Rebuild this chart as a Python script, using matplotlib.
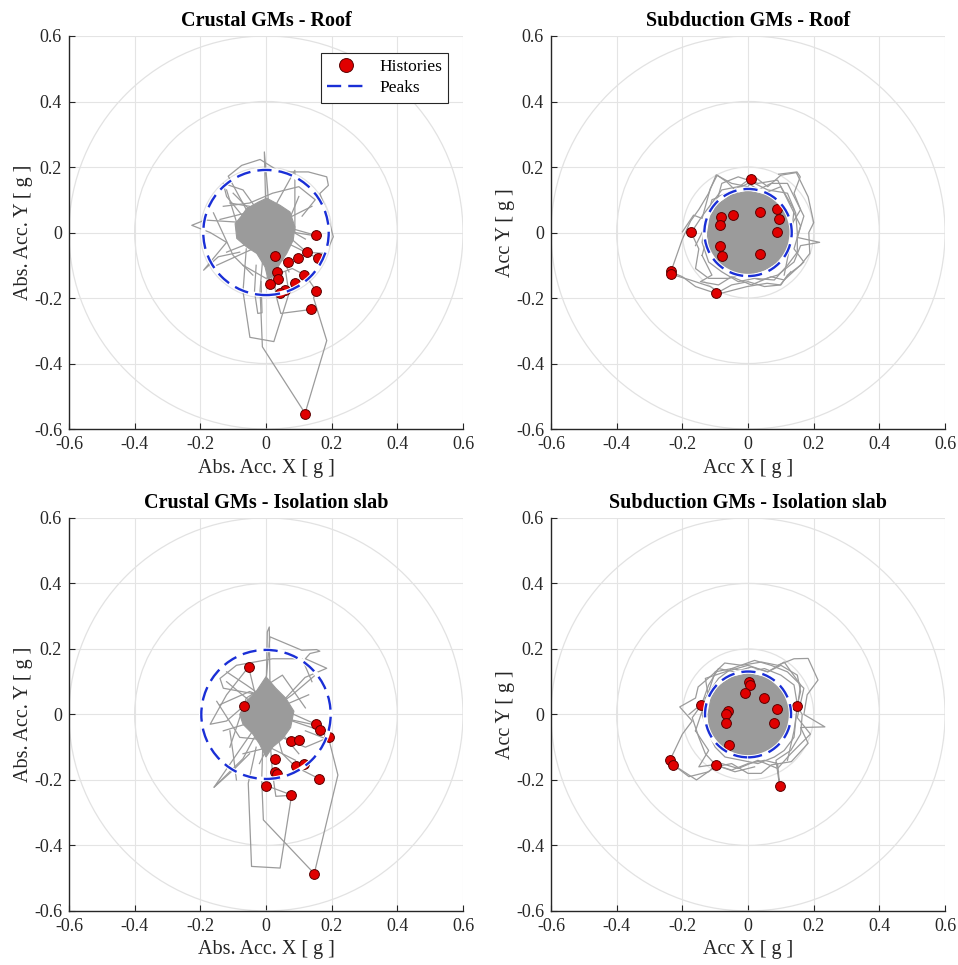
import matplotlib

matplotlib.use("Agg")
import matplotlib.pyplot as plt
from matplotlib.lines import Line2D
from matplotlib.patches import Circle, Polygon

plt.rcParams["font.family"] = ["Liberation Serif", "DejaVu Serif"]

TICKS = [-0.6, -0.4, -0.2, 0, 0.2, 0.4, 0.6]
TICK_LABELS = ["-0.6", "-0.4", "-0.2", "0", "0.2", "0.4", "0.6"]
RING_RADII = [0.2, 0.4, 0.6]

TITLES = [
    "Crustal GMs - Roof",
    "Subduction GMs - Roof",
    "Crustal GMs - Isolation slab",
    "Subduction GMs - Isolation slab",
]
XLABELS = ["Abs. Acc. X [ g ]", "Acc X [ g ]", "Abs. Acc. X [ g ]", "Acc X [ g ]"]
YLABELS = ["Abs. Acc. Y [ g ]", "Acc Y [ g ]", "Abs. Acc. Y [ g ]", "Acc Y [ g ]"]

# radius of the mean peak circle (blue dashed)
PEAK_RADIUS = [0.191, 0.133, 0.197, 0.131]

# peak points (red dots)
cr_roof_px = [0.153, 0.028, 0.066, 0.097, 0.124, 0.159, 0.034, 0.036, 0.012,
              0.117, 0.089, 0.057, 0.043, 0.153, 0.137, 0.119]
cr_roof_py = [-0.009, -0.071, -0.091, -0.077, -0.060, -0.079, -0.121, -0.141,
              -0.158, -0.129, -0.155, -0.174, -0.186, -0.178, -0.235, -0.554]

sub_roof_px = [0.009, 0.035, 0.087, 0.095, 0.087, 0.035, -0.045, -0.082,
               -0.084, -0.173, -0.086, -0.078, -0.235, -0.235, -0.097]
sub_roof_py = [0.162, 0.064, 0.072, 0.042, 0.001, -0.067, 0.055, 0.046,
               0.024, 0.001, -0.042, -0.071, -0.119, -0.127, -0.186]

cr_slab_px = [-0.053, -0.066, 0.152, 0.163, 0.191, 0.076, 0.100, 0.027,
              0.091, 0.115, 0.026, 0.034, 0.161, 0.000, 0.075, 0.147]
cr_slab_py = [0.145, 0.027, -0.030, -0.048, -0.070, -0.081, -0.079, -0.135,
              -0.157, -0.150, -0.175, -0.182, -0.196, -0.217, -0.247, -0.486]

sub_slab_px = [0.003, 0.007, -0.008, 0.049, 0.089, 0.149, 0.078, -0.142,
               -0.060, -0.067, -0.068, -0.059, -0.238, -0.229, -0.098, 0.096]
sub_slab_py = [0.098, 0.089, 0.064, 0.049, 0.017, 0.026, -0.025, 0.029,
               0.009, 0.000, -0.025, -0.093, -0.140, -0.153, -0.155, -0.217]

# dense core of the acceleration histories, outline
cr_roof_core_x = [-0.094, -0.075, -0.059, -0.023, 0.002, 0.043, 0.073, 0.088,
                  0.083, 0.063, 0.043, 0.027, 0.007, -0.003, -0.028, -0.059,
                  -0.089]
cr_roof_core_y = [0.027, 0.05, 0.073, 0.093, 0.105, 0.083, 0.063, 0.017,
                  -0.023, -0.064, -0.094, -0.125, -0.145, -0.105, -0.064,
                  -0.044, -0.018]

sub_roof_core_x = [0.0, 0.06, 0.10, 0.122, 0.127, 0.12, 0.09, 0.05, 0.0,
                   -0.06, -0.10, -0.118, -0.123, -0.115, -0.09, -0.05]
sub_roof_core_y = [0.127, 0.113, 0.083, 0.04, 0.0, -0.05, -0.09, -0.115,
                   -0.13, -0.117, -0.088, -0.05, 0.0, 0.05, 0.088, 0.115]

cr_slab_core_x = [-0.08, -0.06, -0.03, -0.01, 0.0, 0.03, 0.06, 0.085, 0.075,
                  0.05, 0.02, 0.0, -0.02, -0.04, -0.07]
cr_slab_core_y = [0.0, 0.04, 0.07, 0.1, 0.115, 0.08, 0.05, 0.01, -0.04,
                  -0.075, -0.10, -0.13, -0.09, -0.06, -0.03]

sub_slab_core_x = [0.0, 0.06, 0.10, 0.12, 0.125, 0.118, 0.09, 0.05, 0.0,
                   -0.06, -0.10, -0.118, -0.122, -0.113, -0.09, -0.05]
sub_slab_core_y = [0.125, 0.112, 0.082, 0.04, 0.0, -0.05, -0.09, -0.115,
                   -0.128, -0.115, -0.087, -0.05, 0.0, 0.05, 0.087, 0.113]

# excursions of the histories around and outside the core (x list, y list)
cr_roof_lines = [
    ([0.0, -0.005, 0.005, 0.01], [0.05, 0.246, 0.13, 0.05]),
    ([-0.06, -0.115, -0.074, -0.018, 0.043, 0.129, 0.185, 0.19, 0.164, 0.185,
      0.205, 0.182, 0.12],
     [0.07, 0.172, 0.205, 0.223, 0.185, 0.185, 0.170, 0.144, 0.119, 0.063,
      -0.013, -0.064, -0.06]),
    ([-0.06, -0.186, -0.226, -0.17, -0.12, -0.19, -0.145, -0.08],
     [0.03, 0.038, 0.022, 0.0, -0.03, -0.115, -0.074, -0.06]),
    ([-0.01, -0.018, -0.011, 0.119, 0.185, 0.145, 0.153, 0.12],
     [-0.08, -0.176, -0.349, -0.552, -0.33, -0.2, -0.178, -0.13]),
    ([-0.06, -0.07, -0.049, 0.024, 0.07, 0.06],
     [-0.05, -0.18, -0.32, -0.333, -0.186, -0.12]),
    ([0.137, 0.045, 0.03, 0.02], [-0.235, -0.247, -0.19, -0.1]),
    ([-0.03, -0.035, -0.025, -0.012, -0.015],
     [-0.1, -0.18, -0.247, -0.245, -0.15]),
    ([0.0, 0.088, 0.088, 0.15], [0.03, 0.19, 0.0, -0.01]),
    ([-0.13, -0.05, 0.02, 0.1, 0.15, 0.11],
     [0.08, 0.09, 0.12, 0.14, 0.10, 0.05]),
    ([-0.03, -0.12, -0.13, -0.07, -0.02],
     [0.0, 0.11, 0.15, 0.13, 0.06]),
    ([-0.14, -0.06, 0.05, 0.12], [0.04, 0.06, 0.02, -0.02]),
    ([-0.12, -0.02, 0.08, 0.14], [-0.06, -0.02, 0.05, 0.08]),
    ([-0.15, -0.04, 0.02], [-0.1, -0.05, -0.03]),
    ([-0.1, 0.0, 0.07], [0.12, 0.02, -0.12]),
    ([0.153, 0.05, -0.05, -0.11], [-0.009, 0.02, 0.08, 0.09]),
    ([-0.07, 0.0, 0.08, 0.117], [-0.1, -0.14, -0.11, -0.129]),
    ([0.124, 0.02, -0.06], [-0.06, 0.03, 0.0]),
    ([0.159, 0.06, 0.01], [-0.079, -0.03, -0.16]),
    ([-0.12, -0.08, 0.03, 0.1], [0.13, 0.0, -0.06, 0.11]),
    ([-0.16, -0.1, -0.04], [0.06, -0.07, -0.13]),
]

sub_roof_lines = [
    ([-0.235, -0.2, -0.16, -0.097, -0.05, 0.0, 0.05, 0.10, 0.12, 0.16, 0.188,
      0.185, 0.2, 0.183, 0.147, 0.10, 0.06, 0.02, 0.0, -0.05, -0.097, -0.12,
      -0.15, -0.175, -0.20, -0.235],
     [-0.12, -0.135, -0.165, -0.186, -0.16, -0.15, -0.165, -0.16, -0.13,
      -0.10, -0.064, 0.0, 0.03, 0.109, 0.183, 0.175, 0.14, 0.17, 0.14, 0.15,
      0.176, 0.12, 0.07, 0.035, -0.02, -0.12]),
    ([-0.173, -0.15, -0.16, -0.12, -0.06, -0.02, 0.04, 0.09, 0.14, 0.16,
      0.218, 0.15, 0.17, 0.14, 0.12, 0.07, 0.03, -0.03, -0.08, -0.11, -0.14,
      -0.173],
     [0.0, -0.05, -0.11, -0.14, -0.14, -0.13, -0.145, -0.13, -0.09, -0.04,
      -0.03, -0.015, 0.05, 0.11, 0.15, 0.15, 0.13, 0.14, 0.13, 0.09, 0.05,
      0.0]),
    ([-0.13, -0.14, -0.12, -0.08, -0.03, 0.02, 0.08, 0.12, 0.15, 0.15, 0.145,
      0.12, 0.06, 0.0, -0.04, -0.09, -0.13],
     [0.04, -0.03, -0.09, -0.12, -0.15, -0.14, -0.145, -0.1, -0.06, 0.0,
      0.06, 0.12, 0.13, 0.16, 0.13, 0.11, 0.04]),
    ([-0.2, -0.166, -0.14, -0.115, -0.094, -0.064, -0.03],
     [0.002, 0.053, 0.043, 0.134, 0.175, 0.154, 0.12]),
    ([0.093, 0.149, 0.159, 0.14, 0.16, 0.13],
     [0.178, 0.185, 0.17, 0.12, 0.07, 0.02]),
    ([-0.235, -0.176, -0.115, -0.084, -0.003, 0.058, 0.098, 0.13],
     [-0.127, -0.145, -0.165, -0.186, -0.165, -0.155, -0.16, -0.12]),
    ([-0.14, -0.11, -0.145, -0.09, -0.05, 0.01, 0.07, 0.11, 0.17, 0.14, 0.16,
      0.13, 0.09, 0.03, -0.03, -0.08, -0.14],
     [-0.07, -0.13, -0.15, -0.16, -0.135, -0.16, -0.135, -0.145, -0.09,
      -0.05, 0.02, 0.08, 0.16, 0.15, 0.17, 0.15, -0.07]),
    ([-0.16, -0.13, -0.11, -0.06, 0.0, 0.05, 0.1, 0.14, 0.13, 0.11],
     [-0.04, 0.02, 0.1, 0.12, 0.15, 0.12, 0.14, 0.07, -0.03, -0.13]),
]

cr_slab_lines = [
    ([0.0, 0.004, 0.01, 0.012], [0.05, 0.252, 0.267, 0.1]),
    ([0.0, 0.012, 0.109, 0.154, 0.164, 0.134, 0.12, 0.185, 0.119, 0.06],
     [0.1, 0.237, 0.196, 0.198, 0.193, 0.186, 0.17, 0.141, 0.113, 0.05]),
    ([-0.04, -0.158, -0.10, -0.05], [-0.05, -0.222, -0.17, -0.12]),
    ([-0.158, -0.07, -0.03], [-0.222, -0.135, -0.06]),
    ([-0.03, -0.054, -0.044, 0.043, 0.078, 0.0],
     [-0.1, -0.21, -0.464, -0.469, -0.246, -0.217]),
    ([-0.01, -0.013, -0.008, 0.147, 0.219, 0.192, 0.12],
     [-0.1, -0.2, -0.322, -0.486, -0.185, -0.078, -0.05]),
    ([-0.066, -0.12, -0.17, -0.12, -0.053, -0.03],
     [0.027, -0.02, -0.03, 0.06, 0.145, 0.05]),
    ([-0.09, -0.1, -0.11], [-0.2, -0.12, -0.05]),
    ([0.161, 0.09, 0.05, 0.03], [-0.196, -0.16, -0.12, -0.05]),
    ([0.075, 0.03, 0.02, 0.01], [-0.247, -0.25, -0.18, -0.05]),
    ([0.0, 0.14, 0.191, 0.12, 0.0], [0.0, -0.03, -0.07, -0.1, -0.05]),
    ([-0.02, -0.13, -0.14, -0.09, 0.02, 0.11, 0.14],
     [0.06, 0.08, 0.11, 0.15, 0.17, 0.17, 0.10]),
    ([-0.14, -0.05, 0.06, 0.13], [0.03, 0.07, 0.03, 0.06]),
    ([-0.13, -0.03, 0.08, 0.15], [-0.05, -0.02, 0.06, 0.12]),
    ([-0.12, 0.0, 0.1], [0.1, 0.0, -0.12]),
    ([0.152, 0.04, -0.06, -0.12], [-0.03, 0.02, 0.09, 0.13]),
    ([-0.07, 0.01, 0.09], [-0.12, -0.1, -0.14]),
    ([0.163, 0.05, -0.02], [-0.048, -0.01, -0.15]),
    ([-0.11, -0.06, 0.05, 0.12], [-0.1, 0.05, 0.12, 0.02]),
    ([-0.15, -0.08, 0.02], [0.04, -0.07, -0.08]),
]

sub_slab_lines = [
    ([-0.238, -0.20, -0.17, -0.208, -0.16, -0.152, -0.11, -0.071, -0.02,
      0.041, 0.09, 0.14, 0.183, 0.213, 0.18, 0.17, 0.234, 0.16, 0.183, 0.132,
      0.071, 0.04, 0.0, -0.05, -0.10, -0.157, -0.229],
     [-0.14, -0.06, -0.02, 0.023, 0.05, 0.084, 0.12, 0.157, 0.15, 0.16,
      0.15, 0.17, 0.171, 0.105, 0.06, 0.0, -0.038, -0.04, -0.088, -0.144,
      -0.154, -0.18, -0.18, -0.15, -0.16, -0.2, -0.153]),
    ([-0.142, -0.17, -0.15, -0.13, -0.098, -0.05, 0.0, 0.05, 0.09, 0.096,
      0.085, 0.13, 0.16, 0.165, 0.149, 0.16, 0.15, 0.10, 0.06, 0.01, -0.04,
      -0.09, -0.12, -0.142],
     [0.029, -0.01, -0.07, -0.12, -0.155, -0.17, -0.15, -0.14, -0.15, -0.217,
      -0.14, -0.11, -0.06, 0.0, 0.026, 0.07, 0.12, 0.15, 0.13, 0.145, 0.13,
      0.14, 0.09, 0.029]),
    ([-0.13, -0.14, -0.12, -0.10, -0.07, -0.02, 0.03, 0.08, 0.11, 0.14,
      0.145, 0.15, 0.14, 0.10, 0.05, 0.0, -0.05, -0.09, -0.13],
     [0.05, 0.0, -0.06, -0.1, -0.13, -0.14, -0.15, -0.13, -0.11, -0.07,
      -0.02, 0.03, 0.09, 0.12, 0.14, 0.13, 0.14, 0.11, 0.05]),
    ([-0.229, -0.18, -0.12, -0.098, -0.04, 0.02],
     [-0.153, -0.19, -0.175, -0.155, -0.175, -0.16]),
    ([-0.16, -0.12, -0.15, -0.08, -0.03, 0.03, 0.09, 0.13, 0.19, 0.15, 0.17,
      0.12, 0.07, 0.02, -0.05, -0.1, -0.16],
     [-0.05, -0.11, -0.16, -0.15, -0.165, -0.14, -0.165, -0.12, -0.06,
      -0.01, 0.08, 0.13, 0.15, 0.165, 0.14, 0.13, -0.05]),
    ([-0.18, -0.12, -0.13, -0.07, 0.0, 0.06, 0.11, 0.16, 0.14, 0.12],
     [0.0, 0.05, 0.11, 0.13, 0.15, 0.13, 0.16, 0.09, -0.05, -0.14]),
]

PANELS = [
    (cr_roof_px, cr_roof_py, cr_roof_core_x, cr_roof_core_y, cr_roof_lines),
    (sub_roof_px, sub_roof_py, sub_roof_core_x, sub_roof_core_y, sub_roof_lines),
    (cr_slab_px, cr_slab_py, cr_slab_core_x, cr_slab_core_y, cr_slab_lines),
    (sub_slab_px, sub_slab_py, sub_slab_core_x, sub_slab_core_y, sub_slab_lines),
]

AX_RECTS = [
    [0.0720, 0.5554, 0.4113, 0.4073],
    [0.5752, 0.5554, 0.4113, 0.4073],
    [0.0720, 0.0560, 0.4113, 0.4073],
    [0.5752, 0.0560, 0.4113, 0.4073],
]

GREY = "#9b9b9b"
BLUE = "#1a2fd6"
TEXT = "#262626"

fig = plt.figure(figsize=(9.58, 9.65), dpi=100)

for i, (px, py, cx, cy, lines) in enumerate(PANELS):
    ax = fig.add_axes(AX_RECTS[i])
    ax.set_xlim(-0.6, 0.6)
    ax.set_ylim(-0.6, 0.6)

    for r in RING_RADII:
        ax.add_patch(Circle((0, 0), r, fill=False, ec="#e2e2e2", lw=0.9, zorder=1))

    ax.add_patch(Polygon(list(zip(cx, cy)), closed=True, fc=GREY, ec=GREY,
                         lw=0.8, zorder=2))
    for lx, ly in lines:
        ax.plot(lx, ly, color=GREY, lw=0.9, zorder=2)

    ax.scatter(px, py, s=50, c="#e00000", edgecolors="#5a0000",
               linewidths=0.7, zorder=3)

    ax.add_patch(Circle((0, 0), PEAK_RADIUS[i], fill=False, ec="white",
                        lw=3.2, zorder=4))
    ax.add_patch(Circle((0, 0), PEAK_RADIUS[i], fill=False, ec=BLUE, lw=1.7,
                        ls=(0, (6, 3)), zorder=5))

    ax.set_xticks(TICKS)
    ax.set_xticklabels(TICK_LABELS)
    ax.set_yticks(TICKS)
    ax.set_yticklabels(TICK_LABELS)
    ax.grid(True, color="#e4e4e4", lw=0.8)
    ax.set_axisbelow(True)
    ax.tick_params(direction="in", length=4, width=0.8, colors=TEXT,
                   labelsize=13, pad=5)
    for side in ("top", "right"):
        ax.spines[side].set_visible(False)
    for side in ("left", "bottom"):
        ax.spines[side].set_color(TEXT)
        ax.spines[side].set_linewidth(1.0)

    ax.set_title(TITLES[i], fontsize=14.5, fontweight="bold", pad=7)
    ax.set_xlabel(XLABELS[i], fontsize=14.5, color=TEXT, labelpad=4)
    ax.set_ylabel(YLABELS[i], fontsize=14.5, color=TEXT, labelpad=1)

    if i == 0:
        handles = [
            Line2D([], [], ls="none", marker="o", ms=10, mfc="#e00000",
                   mec="#5a0000", mew=0.7),
            Line2D([], [], color=BLUE, lw=1.7, ls=(0, (6, 3))),
        ]
        leg = ax.legend(handles, ["Histories", "Peaks"], loc="upper right",
                        bbox_to_anchor=(0.962, 0.957), borderaxespad=0,
                        fontsize=12.5, fancybox=False, framealpha=1,
                        edgecolor="#262626", handlelength=2.2, borderpad=0.35,
                        labelspacing=0.3)
        leg.get_frame().set_linewidth(0.8)

fig.savefig("out.png", dpi=100)
